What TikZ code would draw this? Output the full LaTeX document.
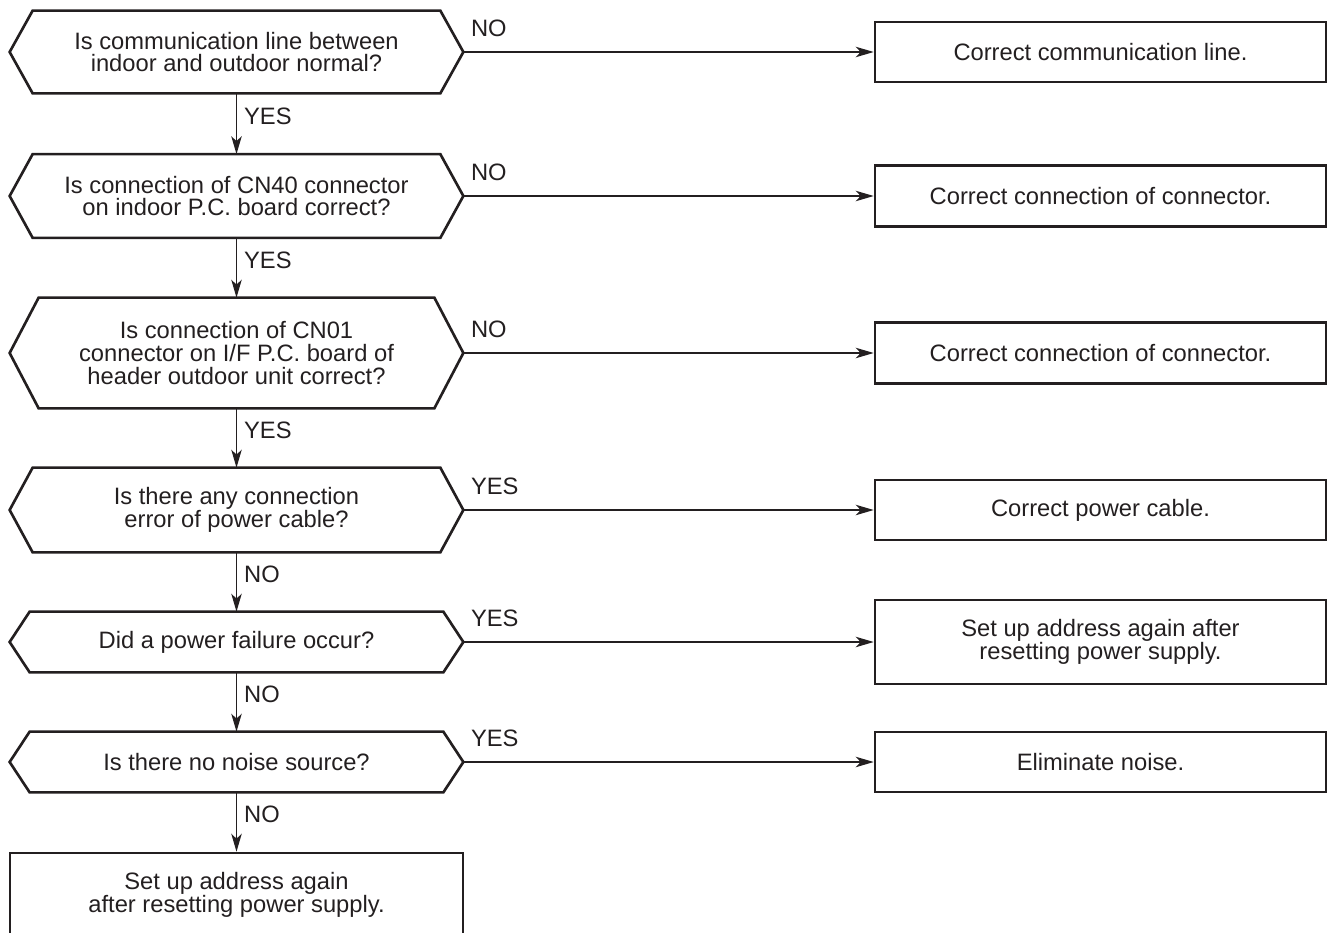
\documentclass[tikz,border=0pt]{standalone}
\usepackage{fontspec}
\setmainfont{Liberation Sans}
\usepackage{xcolor}
\usepackage{tikz}
\usetikzlibrary{arrows.meta}

\definecolor{ink}{HTML}{231F20}

\begin{document}
\begin{tikzpicture}[
    x=0.2mm, y=-0.2mm,
    question/.style={minimum width=90.6mm, align=center, inner sep=0pt,
                     font=\fontsize{13.5}{13}\selectfont, text=ink},
    action/.style={draw=ink, line width=1.5pt, minimum width=90.2mm, align=center,
                   inner sep=0pt, font=\fontsize{13.5}{13}\selectfont, text=ink},
    hexline/.style={draw=ink, line width=1.5pt, line join=miter},
    arrow/.style={-{Stealth[length=3.6mm, width=2.1mm, inset=1mm]}, line width=0.75pt, draw=ink},
    ans/.style={inner sep=0pt, font=\fontsize{13.5}{13}\selectfont, text=ink}
  ]
    \useasboundingbox (0,0) rectangle (1328,932);
    \clip (0,0) rectangle (1328,932);

    % questions
    \node[question, minimum height=16.4mm] (q1) at (236.5,52)
      {Is communication line between\\indoor and outdoor normal?};
    \node[question, minimum height=16.6mm] (q2) at (236.5,196)
      {Is connection of CN40 connector\\on indoor P.C. board correct?};
    \node[question, minimum height=22mm] (q3) at (236.5,353)
      {Is connection of CN01\\connector on I/F P.C. board of\\header outdoor unit correct?};
    \node[question, minimum height=16.8mm] (q4) at (236.5,510)
      {Is there any connection\\error of power cable?};
    \node[question, minimum height=12mm] (q5) at (236.5,642)
      {Did a power failure occur?};
    \node[question, minimum height=12mm] (q6) at (236.5,762)
      {Is there no noise source?};
    \foreach \i/\d in {1/4.6,2/4.6,3/5.8,4/4.6,5/4,6/4}
      \draw[hexline] (q\i.west) -- ([xshift=\d mm]q\i.north west) -- ([xshift=-\d mm]q\i.north east)
        -- (q\i.east) -- ([xshift=-\d mm]q\i.south east) -- ([xshift=\d mm]q\i.south west) -- cycle;

    % actions
    \node[action, minimum height=12mm] (r1) at (1100.5,52) {Correct communication line.};
    \node[action, minimum height=12.2mm] (r2) at (1100.5,196) {Correct connection of connector.};
    \node[action, minimum height=12.2mm] (r3) at (1100.5,353) {Correct connection of connector.};
    \node[action, minimum height=12mm] (r4) at (1100.5,510) {Correct power cable.};
    \node[action, minimum height=16.8mm] (r5) at (1100.5,642)
      {Set up address again after\\resetting power supply.};
    \node[action, minimum height=12mm] (r6) at (1100.5,762) {Eliminate noise.};
    \node[action, minimum width=90.6mm, minimum height=16.8mm] (done) at (236.5,895)
      {Set up address again\\after resetting power supply.};

    % branches
    \draw[arrow] (q1.east) -- node[ans, pos=0, anchor=base west, xshift=1.4mm, yshift=3.1mm] {NO} (r1.west);
    \draw[arrow] (q2.east) -- node[ans, pos=0, anchor=base west, xshift=1.4mm, yshift=3.1mm] {NO} (r2.west);
    \draw[arrow] (q3.east) -- node[ans, pos=0, anchor=base west, xshift=1.4mm, yshift=3.1mm] {NO} (r3.west);
    \draw[arrow] (q4.east) -- node[ans, pos=0, anchor=base west, xshift=1.4mm, yshift=3.1mm] {YES} (r4.west);
    \draw[arrow] (q5.east) -- node[ans, pos=0, anchor=base west, xshift=1.4mm, yshift=3.1mm] {YES} (r5.west);
    \draw[arrow] (q6.east) -- node[ans, pos=0, anchor=base west, xshift=1.4mm, yshift=3.1mm] {YES} (r6.west);

    \draw[arrow] (q1.south) -- node[ans, pos=0.37, anchor=west, xshift=1.4mm] {YES} (q2.north);
    \draw[arrow] (q2.south) -- node[ans, pos=0.37, anchor=west, xshift=1.4mm] {YES} (q3.north);
    \draw[arrow] (q3.south) -- node[ans, pos=0.37, anchor=west, xshift=1.4mm] {YES} (q4.north);
    \draw[arrow] (q4.south) -- node[ans, pos=0.37, anchor=west, xshift=1.4mm] {NO} (q5.north);
    \draw[arrow] (q5.south) -- node[ans, pos=0.37, anchor=west, xshift=1.4mm] {NO} (q6.north);
    \draw[arrow] (q6.south) -- node[ans, pos=0.37, anchor=west, xshift=1.4mm] {NO} (done.north);
  \end{tikzpicture}
\end{document}
